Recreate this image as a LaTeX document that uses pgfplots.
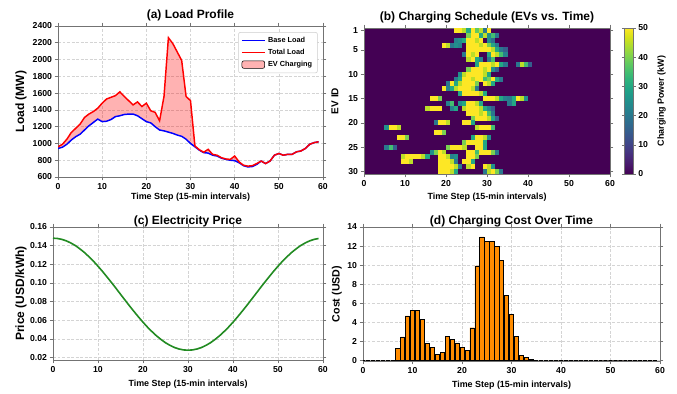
\documentclass[border=0pt]{standalone}
\usepackage{fontspec}
\setmainfont{Liberation Sans}
\usepackage{pgfplots}
\pgfplotsset{compat=1.18}
\usepgfplotslibrary{fillbetween}
\usepackage{pgfplotstable}

\definecolor{vir0}{RGB}{68,1,84}
\definecolor{gridc}{RGB}{212,212,212}
\definecolor{framec}{RGB}{115,115,115}
\definecolor{barorange}{RGB}{255,140,0}
\definecolor{pgreen}{RGB}{34,139,34}

\pgfdeclareplotmark{cell}{\pgfpathrectangle{\pgfqpoint{-1.6pt}{-1.88pt}}{\pgfqpoint{3.2pt}{3.76pt}}\pgfusepathqfill}

\newcommand{\tickfont}{\bfseries\fontsize{6.5}{7}\selectfont}
\newcommand{\labfont}{\bfseries\fontsize{6.7}{8}\selectfont}
\newcommand{\titfont}{\bfseries\fontsize{9}{10}\selectfont}
\newcommand{\yfont}[1]{\bfseries\fontsize{#1}{#1}\selectfont}

\pgfplotsset{
  myax/.style={
    scale only axis, anchor=south west,
    tick label style={font=\tickfont},
    xticklabel style={inner sep=1.8pt},
    yticklabel style={inner sep=1.8pt},
    /pgf/number format/assume math mode=true,
    /pgf/number format/1000 sep={},
    every axis x label/.style={anchor=base, font=\labfont},
    every axis y label/.style={rotate=90, anchor=base, font=\labfont},
    every axis title/.style={anchor=base, font=\titfont},
    tick align=outside, major tick length=2.5pt,
    major tick style={framec, line width=0.5pt},
    axis line style={framec, line width=0.6pt},
    xmin=0, xmax=60, xtick={0,10,...,60},
    xlabel={Time Step (15-min intervals)},
  },
  mygrid/.style={grid=major, grid style={gridc, dash pattern=on 2.2pt off 1.2pt, line width=0.45pt}},
}

\pgfplotstableread{
t base total
0 940 960
1 955 990
2 990 1050
3 1040 1130
4 1080 1180
5 1110 1230
6 1160 1310
7 1210 1350
8 1250 1380
9 1290 1420
10 1260 1480
11 1265 1530
12 1285 1550
13 1320 1570
14 1330 1615
15 1345 1560
16 1350 1510
17 1350 1460
18 1330 1495
19 1295 1440
20 1260 1480
21 1245 1390
22 1200 1370
23 1160 1270
24 1150 1560
25 1135 2260
26 1120 2190
27 1100 2090
28 1085 1990
29 1050 1560
30 1000 1510
31 960 970
32 920 925
33 890 895
34 885 930
35 860 870
36 850 860
37 825 830
38 810 815
39 800 810
40 795 850
41 770 780
42 735 740
43 720 730
44 725 735
45 750 760
46 790 790
47 760 760
48 790 790
49 860 860
50 880 880
51 860 860
52 870 870
53 870 870
54 900 900
55 910 910
56 940 940
57 990 990
58 1010 1010
59 1020 1020
}\loadtab

\pgfplotstableread{
t p
0 0.1480
1 0.1477
2 0.1467
3 0.1451
4 0.1428
5 0.1400
6 0.1365
7 0.1326
8 0.1281
9 0.1233
10 0.1180
11 0.1124
12 0.1065
13 0.1005
14 0.0943
15 0.0880
16 0.0817
17 0.0755
18 0.0695
19 0.0636
20 0.0580
21 0.0527
22 0.0479
23 0.0434
24 0.0395
25 0.0360
26 0.0332
27 0.0309
28 0.0293
29 0.0283
30 0.0280
31 0.0283
32 0.0293
33 0.0309
34 0.0332
35 0.0360
36 0.0395
37 0.0434
38 0.0479
39 0.0527
40 0.0580
41 0.0636
42 0.0695
43 0.0755
44 0.0817
45 0.0880
46 0.0943
47 0.1005
48 0.1065
49 0.1124
50 0.1180
51 0.1233
52 0.1281
53 0.1326
54 0.1365
55 0.1400
56 0.1428
57 0.1451
58 0.1467
59 0.1477
}\pricetab

\pgfplotstableread{
t c
0 0
1 0
2 0
3 0
4 0
5 0
6 0
7 1.25
8 2.45
9 4.65
10 5.2
11 5.2
12 4.3
13 1.75
14 1.35
15 0.6
16 0.8
17 2.5
18 2.15
19 1.8
20 1.3
21 1.0
22 3.4
23 9.9
24 12.95
25 12.45
26 12.45
27 12.0
28 10.5
29 6.8
30 4.8
31 2.5
32 0.5
33 0.25
34 0.08
35 0
36 0
37 0
38 0
39 0
40 0
41 0
42 0
43 0
44 0
45 0
46 0
47 0
48 0
49 0
50 0
51 0
52 0
53 0
54 0
55 0
56 0
57 0
58 0
59 0
}\costtab

\begin{document}
\begin{tikzpicture}
\path (0pt,0pt) rectangle (507.75pt,293.25pt);

% (a) Load profile
\begin{axis}[myax, mygrid, set layers,
  at={(43.5pt,160.5pt)}, width=198.75pt, height=113.25pt,
  ymin=600, ymax=2400, ytick={600,800,...,2400},
  title={(a) Load Profile}, ylabel={Load (MW)},
  title style={at={([yshift=5.25pt]axis description cs:0.5,1)}},
  xlabel style={at={([yshift=-16.7pt]axis description cs:0.5,0)}},
  ylabel style={font=\yfont{9}, at={([xshift=-25.5pt]axis description cs:0,0.5)}},
  legend cell align=left,
  legend style={at={(0.98,0.96)}, anchor=north east, font=\bfseries\fontsize{5.5}{6}\selectfont,
    draw=gray!40, rounded corners=1.5pt, inner xsep=2pt, inner ysep=1.5pt, row sep=-0.5pt},
]
\addplot[blue, line width=1.1pt, name path=base] table[x=t, y=base]{\loadtab};
\addlegendentry{Base Load}
\addplot[red, line width=1.1pt, name path=total] table[x=t, y=total]{\loadtab};
\addlegendentry{Total Load}
\addplot[fill=red, fill opacity=0.3, draw=none, area legend] fill between[of=total and base];
\addlegendentry{EV Charging}
\end{axis}

% (b) Charging schedule heatmap
\begin{axis}[myax,
  at={(273pt,162.75pt)}, width=184.5pt, height=109.5pt,
  ymin=0.5, ymax=30.5, y dir=reverse, ytick={1,5,10,15,20,25,30},
  axis background/.style={fill=vir0},
  colormap/viridis, point meta min=0, point meta max=50,
  colorbar, colorbar shift/.style={xshift=5.5pt},
  colorbar style={width=6.3pt, ytick={0,10,...,50},
    yticklabel style={font=\tickfont, inner sep=1.8pt}, /pgf/number format/assume math mode=true,
    tick align=outside, major tick length=2pt, major tick style={framec},
    axis line style={framec},
    ylabel={Charging Power (kW)},
    ylabel style={font=\labfont, at={([xshift=23.25pt]axis description cs:1,0.5)}, anchor=base}},
  title={(b) Charging Schedule (EVs vs. Time)}, ylabel={EV ID},
  title style={at={([yshift=6pt]axis description cs:0.5,1)}},
  xlabel style={at={([yshift=-18.75pt]axis description cs:0.5,0)}},
  ylabel style={font=\yfont{7.5}, at={([xshift=-19.3pt]axis description cs:0,0.5)}},
]
\addplot[scatter, only marks, mark=cell, point meta=explicit,
  scatter/use mapped color={fill=mapped color, draw=none}] coordinates {
(22.5,1)[50] (23.5,1)[50] (24.5,1)[45] (25.5,1)[30] (26.5,1)[50] (27.5,1)[38] (28.5,1)[45] (29.5,1)[20] (30.5,1)[50]
(25.5,2)[40] (26.5,2)[50] (27.5,2)[50] (28.5,2)[30] (29.5,2)[45] (30.5,2)[25] (31.5,2)[35] (32.5,2)[20]
(22.5,3)[22] (23.5,3)[25] (24.5,3)[30] (25.5,3)[50] (26.5,3)[50] (27.5,3)[45] (28.5,3)[50] (30.5,3)[25] (31.5,3)[18]
(19.5,4)[50] (20.5,4)[45] (21.5,4)[20] (22.5,4)[25] (23.5,4)[22] (25.5,4)[50] (26.5,4)[50] (27.5,4)[50] (28.5,4)[45] (29.5,4)[50] (30.5,4)[40] (31.5,4)[30] (32.5,4)[20]
(25.5,5)[50] (26.5,5)[50] (27.5,5)[50] (28.5,5)[50] (29.5,5)[50] (30.5,5)[50] (31.5,5)[45] (32.5,5)[30] (33.5,5)[20] (34.5,5)[15]
(24.5,6)[20] (25.5,6)[50] (26.5,6)[45] (27.5,6)[50] (30.5,6)[30] (31.5,6)[50] (32.5,6)[45] (33.5,6)[35] (34.5,6)[22]
(25.5,7)[45] (26.5,7)[50] (27.5,7)[30] (28.5,7)[22] (30.5,7)[20] (31.5,7)[35]
(27.5,8)[30] (28.5,8)[50] (29.5,8)[50] (30.5,8)[50] (31.5,8)[45] (32.5,8)[50] (33.5,8)[30] (34.5,8)[20] (37.5,8)[20] (38.5,8)[45] (39.5,8)[35] (40.5,8)[15]
(25.5,9)[40] (26.5,9)[50] (27.5,9)[50] (28.5,9)[50] (29.5,9)[45] (30.5,9)[50] (31.5,9)[25] (32.5,9)[15]
(23.5,10)[25] (24.5,10)[45] (25.5,10)[50] (26.5,10)[50] (27.5,10)[50] (28.5,10)[50] (29.5,10)[45] (30.5,10)[30]
(22.5,11)[20] (23.5,11)[30] (24.5,11)[50] (25.5,11)[50] (26.5,11)[45] (27.5,11)[50] (28.5,11)[50] (29.5,11)[35] (30.5,11)[40] (31.5,11)[50] (32.5,11)[30] (33.5,11)[20]
(20.5,12)[20] (21.5,12)[50] (22.5,12)[30] (23.5,12)[45] (24.5,12)[50] (25.5,12)[50] (26.5,12)[50] (27.5,12)[40] (29.5,12)[50] (30.5,12)[45] (31.5,12)[30]
(19.5,13)[50] (20.5,13)[22] (21.5,13)[30] (22.5,13)[45] (23.5,13)[50] (24.5,13)[50] (25.5,13)[50] (26.5,13)[45] (27.5,13)[20]
(23.5,14)[30] (24.5,14)[50] (25.5,14)[50] (26.5,14)[50] (27.5,14)[50] (28.5,14)[45] (29.5,14)[30]
(16.5,15)[50] (17.5,15)[50] (18.5,15)[40] (29.5,15)[50] (30.5,15)[50] (31.5,15)[50] (32.5,15)[45] (33.5,15)[30] (34.5,15)[22] (35.5,15)[20] (36.5,15)[30] (37.5,15)[50] (38.5,15)[45] (39.5,15)[25]
(20.5,16)[22] (21.5,16)[35] (23.5,16)[25] (24.5,16)[30] (25.5,16)[50] (26.5,16)[50] (27.5,16)[45] (28.5,16)[30] (35.5,16)[20] (36.5,16)[30]
(15.5,17)[45] (16.5,17)[50] (17.5,17)[50] (18.5,17)[50] (21.5,17)[22] (22.5,17)[30] (24.5,17)[45] (25.5,17)[50] (26.5,17)[50] (27.5,17)[50] (28.5,17)[45] (29.5,17)[30] (30.5,17)[22] (31.5,17)[15]
(25.5,18)[50] (26.5,18)[50] (27.5,18)[50] (28.5,18)[45] (29.5,18)[50] (30.5,18)[35] (31.5,18)[20]
(26.5,19)[40] (27.5,19)[50] (28.5,19)[50] (29.5,19)[50] (30.5,19)[45] (31.5,19)[30] (32.5,19)[15]
(17.5,20)[20] (18.5,20)[50] (19.5,20)[50] (20.5,20)[45] (24.5,20)[50] (25.5,20)[50] (26.5,20)[30]
(5.5,21)[25] (6.5,21)[50] (7.5,21)[50] (8.5,21)[45] (27.5,21)[45] (28.5,21)[50] (29.5,21)[50] (30.5,21)[50] (31.5,21)[35]
(17.5,22)[50] (18.5,22)[50] (19.5,22)[40]
(8.5,23)[50] (9.5,23)[50] (10.5,23)[40] (26.5,23)[30] (27.5,23)[50] (28.5,23)[50] (29.5,23)[45] (30.5,23)[25]
(24.5,24)[40] (25.5,24)[50] (26.5,24)[50] (27.5,24)[50] (28.5,24)[50] (29.5,24)[30]
(5.5,25)[20] (6.5,25)[35] (7.5,25)[15] (20.5,25)[40] (21.5,25)[50] (22.5,25)[50] (23.5,25)[50] (24.5,25)[45] (27.5,25)[50] (28.5,25)[50] (29.5,25)[30]
(16.5,26)[25] (17.5,26)[40] (18.5,26)[50] (19.5,26)[45] (25.5,26)[50] (26.5,26)[50] (27.5,26)[35] (28.5,26)[50] (29.5,26)[50] (30.5,26)[50] (31.5,26)[40] (32.5,26)[20]
(9.5,27)[45] (10.5,27)[50] (11.5,27)[50] (12.5,27)[50] (13.5,27)[50] (14.5,27)[45] (15.5,27)[30] (18.5,27)[50] (19.5,27)[50] (20.5,27)[45] (21.5,27)[22] (22.5,27)[25] (25.5,27)[50] (26.5,27)[50] (27.5,27)[40]
(9.5,28)[50] (10.5,28)[50] (11.5,28)[45] (18.5,28)[50] (19.5,28)[50] (20.5,28)[50] (21.5,28)[45] (22.5,28)[20] (24.5,28)[50] (25.5,28)[50] (26.5,28)[30]
(18.5,29)[50] (19.5,29)[50] (20.5,29)[50] (21.5,29)[50] (22.5,29)[45] (23.5,29)[20] (25.5,29)[45] (26.5,29)[50] (29.5,29)[50] (30.5,29)[45] (31.5,29)[25]
(18.5,30)[50] (19.5,30)[50] (20.5,30)[50] (21.5,30)[45] (22.5,30)[30] (29.5,30)[20] (30.5,30)[45] (31.5,30)[50] (32.5,30)[40] (33.5,30)[20]
};
\end{axis}

% (c) Electricity price
\begin{axis}[myax, mygrid,
  at={(39.75pt,23.25pt)}, width=202.5pt, height=99.75pt,
  ymin=0.0175, ymax=0.16, ytick={0.02,0.04,0.06,0.08,0.10,0.12,0.14,0.16},
  scaled y ticks=false,
  yticklabel style={/pgf/number format/.cd, fixed, fixed zerofill, precision=2},
  title={(c) Electricity Price}, ylabel={Price (USD/kWh)},
  title style={at={([yshift=2pt]axis description cs:0.5,1)}},
  xlabel style={at={([yshift=-19.5pt]axis description cs:0.5,0)}},
  ylabel style={font=\yfont{9}, at={([xshift=-21.75pt]axis description cs:0,0.5)}},
]
\addplot[pgreen, line width=1.2pt] table[x=t, y=p]{\pricetab};
\end{axis}

% (d) Charging cost
\begin{axis}[myax, mygrid,
  at={(272.25pt,22.5pt)}, width=222.75pt, height=100.5pt,
  ymin=-0.1, ymax=14, ytick={0,2,...,14},
  title={(d) Charging Cost Over Time}, ylabel={Cost (USD)},
  title style={at={([yshift=2pt]axis description cs:0.5,1)}},
  xlabel style={at={([yshift=-20pt]axis description cs:0.5,0)}},
  ylabel style={font=\yfont{8}, at={([xshift=-17.6pt]axis description cs:0,0.5)}},
]
\addplot[ybar, bar width=0.85, fill=barorange, draw=black, line width=0.35pt] table[x=t, y=c]{\costtab};
\end{axis}
\end{tikzpicture}
\end{document}
